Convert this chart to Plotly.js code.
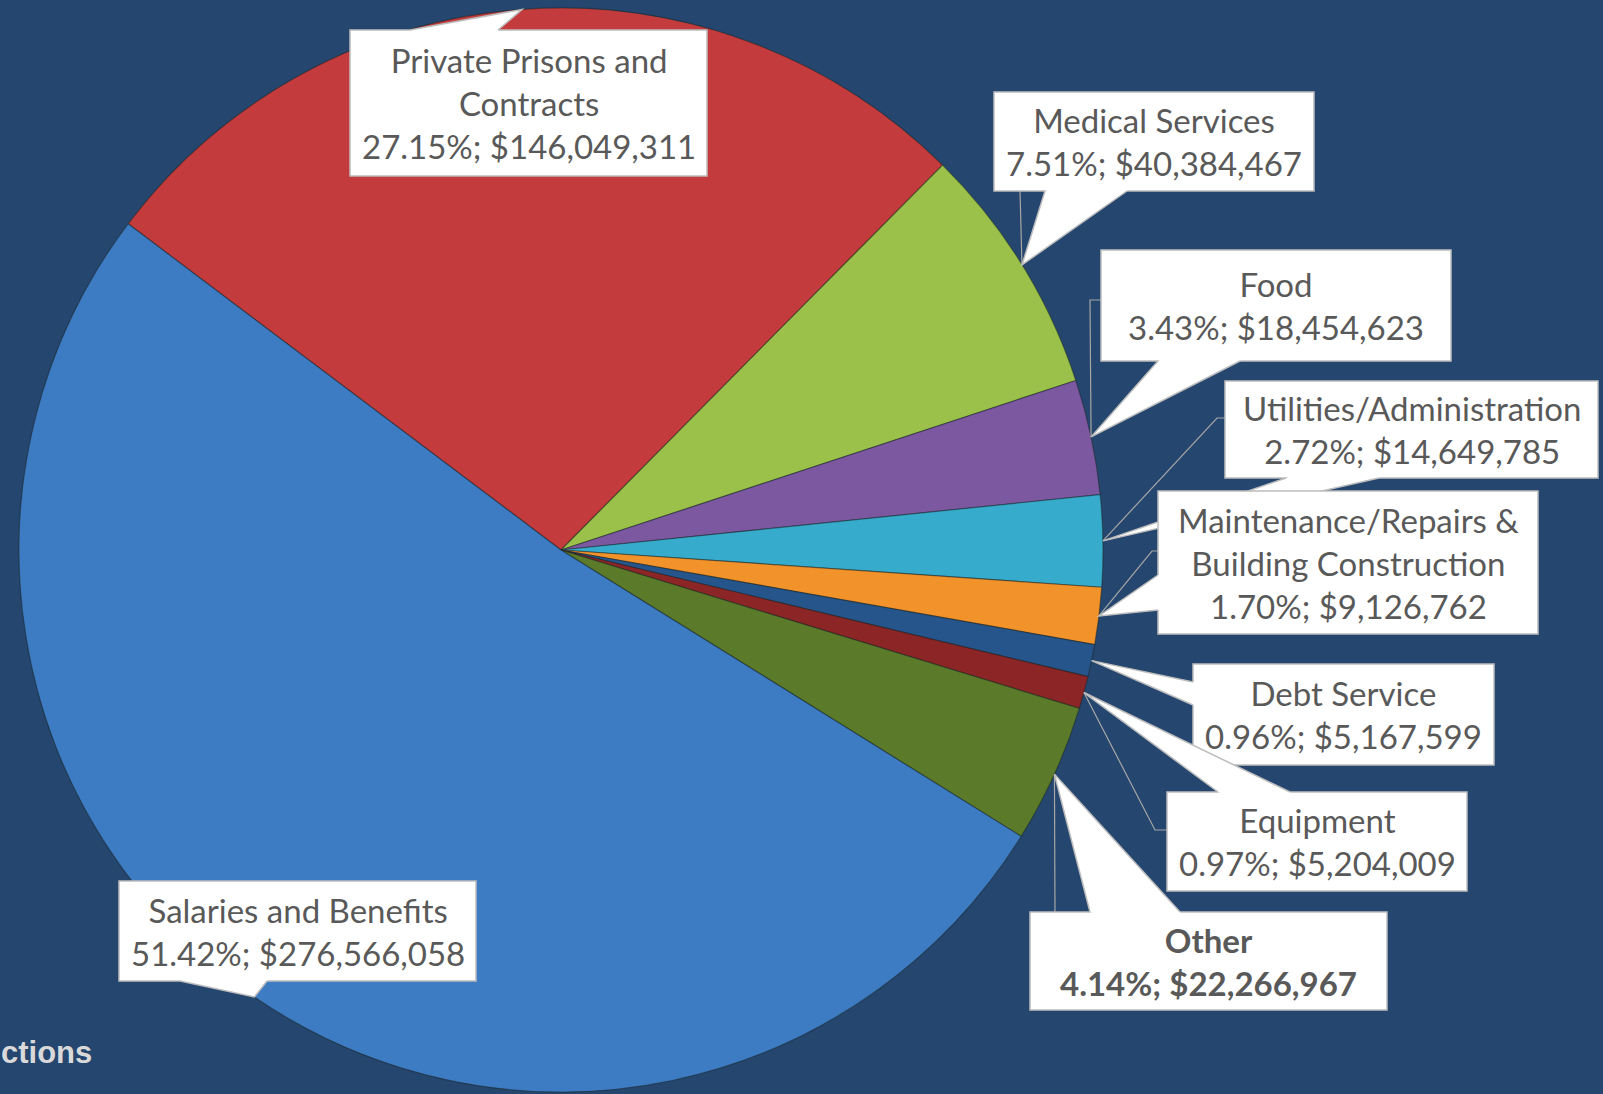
<!DOCTYPE html>
<html>
<head>
<meta charset="utf-8">
<script src="https://cdn.plot.ly/plotly-3.0.1.min.js"></script>
<style>
  html, body { margin: 0; padding: 0; background: #25466f; }
  #chart { width: 1603px; height: 1094px; }
</style>
</head>
<body>
<div id="chart"></div>
<script>
// Budget categories, clockwise from the upper-left edge of the pie
const categories = [
    'Private Prisons and Contracts',
    'Medical Services',
    'Food',
    'Utilities/Administration',
    'Maintenance/Repairs & Building Construction',
    'Debt Service',
    'Equipment',
    'Other',
    'Salaries and Benefits'
];
const amounts = [146049311, 40384467, 18454623, 14649785, 9126762, 5167599, 5204009, 22266967, 276566058];
// how each label is broken across lines in its callout
const labelLines = [
    ['Private Prisons and', 'Contracts'],
    ['Medical Services'],
    ['Food'],
    ['Utilities/Administration'],
    ['Maintenance/Repairs &', 'Building Construction'],
    ['Debt Service'],
    ['Equipment'],
    ['Other'],
    ['Salaries and Benefits']
];
const boldLabels = ['Other'];
const sliceColors = ['#c33b3c', '#9bc14a', '#7b58a0', '#37abcc', '#f2922a', '#25558b', '#8c2526', '#5b7a2a', '#3d7bc3'];

const W = 1603, H = 1094;
const ROTATION = -53;
// pie box in pixels (left, top, right, bottom)
const pieBox = [19, 8, 1103, 1092];

// callout layout in pixels: box, wedge base, leader line points (tip is added from the pie)
const callouts = [
    { box: [350, 30, 707, 176], base: [[410, 30], [498, 30]], leader: null },
    { box: [994, 92, 1314, 191], base: [[1045, 191], [1127, 191]], leader: [[1020, 191]] },
    { box: [1101, 250, 1451, 361], base: [[1158, 361], [1240, 361]], leader: [[1101, 300], [1090, 300]] },
    { box: [1225, 381, 1598, 478], base: [[1286, 478], [1379, 478]], leader: [[1225, 418], [1217, 418]] },
    { box: [1158, 491, 1538, 634], base: [[1158, 575], [1158, 610]], leader: [[1158, 551], [1152, 551]] },
    { box: [1193, 664, 1494, 765], base: [[1193, 682], [1193, 705]], leader: null },
    { box: [1167, 792, 1467, 891], base: [[1218, 792], [1290, 792]], leader: [[1167, 830], [1155, 830]] },
    { box: [1030, 912, 1387, 1010], base: [[1090, 912], [1180, 912]], leader: [[1055, 912]] },
    { box: [119, 881, 476, 981], base: [[180, 981], [267, 981]], leader: null }
];

const px = x => x / W;
const py = y => 1 - y / H;

const total = amounts.reduce((a, b) => a + b, 0);
const cx = (pieBox[0] + pieBox[2]) / 2;
const cy = (pieBox[1] + pieBox[3]) / 2;
const R = Math.min(pieBox[2] - pieBox[0], pieBox[3] - pieBox[1]) / 2;

// point on the pie rim at the middle of each slice
let cum = 0;
const tips = amounts.map(v => {
    const a = (ROTATION + 360 * (cum + v / 2) / total) * Math.PI / 180;
    cum += v;
    return [cx + R * Math.sin(a), cy - R * Math.cos(a)];
});

function fmtMoney(v) {
    return '$' + v.toLocaleString('en-US');
}

function pathOf(pts, close) {
    return pts.map((p, i) => (i ? 'L ' : 'M ') + px(p[0]) + ' ' + py(p[1])).join(' ') + (close ? ' Z' : '');
}

const lineGray = '#bdbdbd';
const shapes = [];
const annotations = [];

// leader lines sit under every callout
callouts.forEach((c, i) => {
    if (!c.leader) return;
    shapes.push({
        type: 'path', xref: 'paper', yref: 'paper',
        path: pathOf(c.leader.concat([tips[i]]), false),
        line: { color: '#a6a6a6', width: 1.2 }, fillcolor: 'rgba(0,0,0,0)'
    });
});

callouts.forEach((c, i) => {
    const [x0, y0, x1, y1] = c.box;
    const bx = (x0 + x1) / 2, by = (y0 + y1) / 2;
    shapes.push({
        type: 'rect', xref: 'paper', yref: 'paper',
        x0: px(x0), x1: px(x1), y0: py(y1), y1: py(y0),
        fillcolor: '#ffffff', line: { color: lineGray, width: 1.5 }
    });
    // wedge: fill pushed a little into the box to hide the border under it
    const inward = c.base.map(p => {
        const dx = bx - p[0], dy = by - p[1];
        const d = Math.hypot(dx, dy);
        return [p[0] + 3 * dx / d, p[1] + 3 * dy / d];
    });
    shapes.push({
        type: 'path', xref: 'paper', yref: 'paper',
        path: pathOf([inward[0], c.base[0], tips[i], c.base[1], inward[1]], true),
        fillcolor: '#ffffff', line: { width: 0 }
    });
    shapes.push({
        type: 'path', xref: 'paper', yref: 'paper',
        path: pathOf([c.base[0], tips[i], c.base[1]], false),
        fillcolor: 'rgba(0,0,0,0)', line: { color: lineGray, width: 1.5 }
    });

    const pct = (100 * amounts[i] / total).toFixed(2) + '%; ' + fmtMoney(amounts[i]);
    let txt = labelLines[i].concat([pct]).join('<br>');
    if (boldLabels.includes(categories[i])) txt = '<b>' + txt + '</b>';
    annotations.push({
        xref: 'paper', yref: 'paper', x: px(bx), y: py(by),
        xanchor: 'center', yanchor: 'middle', showarrow: false,
        text: txt, align: 'center',
        font: { family: 'Lato, "Open Sans", sans-serif', size: 33, color: '#595959' }
    });
});

annotations.push({
    xref: 'paper', yref: 'paper', x: px(94), y: py(1052),
    xanchor: 'right', yanchor: 'middle', showarrow: false,
    text: '<b>ctions</b>',
    font: { family: '"Liberation Sans", Arial, sans-serif', size: 31, color: '#d9d9d9' }
});

const trace = {
    type: 'pie',
    labels: categories,
    values: amounts,
    sort: false,
    direction: 'clockwise',
    rotation: ROTATION,
    textinfo: 'none',
    hoverinfo: 'label+percent+value',
    marker: { colors: sliceColors, line: { color: 'rgba(25,35,30,0.45)', width: 1.2 } },
    domain: { x: [px(pieBox[0]), px(pieBox[2])], y: [py(pieBox[3]), py(pieBox[1])] }
};

const layout = {
    width: W,
    height: H,
    margin: { l: 0, r: 0, t: 0, b: 0 },
    paper_bgcolor: '#25466f',
    plot_bgcolor: '#25466f',
    showlegend: false,
    shapes: shapes,
    annotations: annotations
};

Plotly.newPlot('chart', [trace], layout, { displayModeBar: false, staticPlot: true });
</script>
</body>
</html>
